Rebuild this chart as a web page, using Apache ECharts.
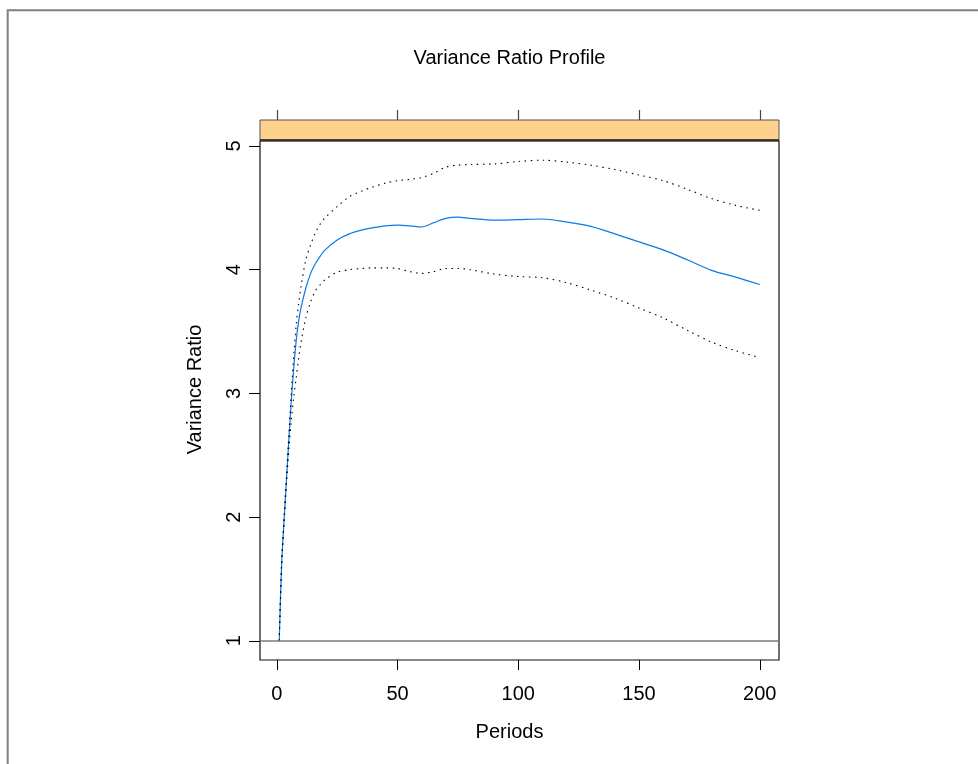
<!DOCTYPE html>
<html>
<head>
<meta charset="utf-8">
<script src="https://cdn.jsdelivr.net/npm/echarts@6/dist/echarts.min.js"></script>
<style>
  html, body { margin: 0; padding: 0; background: #fff; }
  #chart { width: 978px; height: 764px; }
</style>
</head>
<body>
<div id="chart"></div>
<script>
// Periods at which the profile is sampled
var periods = [1, 2, 3, 4, 5, 6, 7, 8, 9, 10, 12, 14, 16, 18, 20, 25, 30, 35, 40, 45,
  50, 55, 60, 65, 70, 75, 80, 90, 100, 110, 120, 130, 140, 150, 160, 170, 180, 190, 200];

// Mean variance ratio
var meanRatio = [1.00, 1.62, 1.97, 2.30, 2.63, 2.94, 3.20, 3.42, 3.58, 3.69, 3.85, 3.97, 4.05, 4.11, 4.16, 4.24, 4.29, 4.32, 4.34, 4.355,
  4.36, 4.355, 4.345, 4.38, 4.415, 4.425, 4.415, 4.40, 4.405, 4.41, 4.385, 4.35, 4.29, 4.225, 4.16, 4.08, 3.995, 3.94, 3.88];

// Upper band
var upperRatio = [1.00, 1.64, 1.99, 2.33, 2.67, 3.00, 3.30, 3.55, 3.72, 3.86, 4.08, 4.20, 4.30, 4.37, 4.42, 4.51, 4.59, 4.635, 4.67, 4.70,
  4.72, 4.73, 4.745, 4.78, 4.83, 4.845, 4.85, 4.855, 4.875, 4.885, 4.87, 4.845, 4.81, 4.765, 4.72, 4.65, 4.575, 4.52, 4.48];

// Lower band
var lowerRatio = [1.00, 1.60, 1.95, 2.27, 2.55, 2.78, 2.97, 3.12, 3.28, 3.41, 3.61, 3.74, 3.83, 3.88, 3.92, 3.98, 4.00, 4.01, 4.015, 4.015,
  4.01, 3.985, 3.97, 3.985, 4.01, 4.01, 4.00, 3.965, 3.945, 3.935, 3.895, 3.835, 3.77, 3.69, 3.61, 3.51, 3.415, 3.345, 3.29];

var xTicks = [0, 50, 100, 150, 200];
var yTicks = [1, 2, 3, 4, 5];
var refLevel = 1;

function pairs(xs, ys) {
  return xs.map(function (x, i) { return [x, ys[i]]; });
}

// axis limits padded by 4% of the data range on each side
var xMin = periods[0], xMax = periods[periods.length - 1];
var allY = meanRatio.concat(upperRatio, lowerRatio);
var yLo = Math.min.apply(null, allY), yHi = Math.max.apply(null, allY);
var xPad = 0.04 * (xMax - xMin), yPad = 0.04 * (yHi - yLo);

var FONT = '"Liberation Sans", Arial, sans-serif';
var FS = 20;
var GRID = { left: 260, top: 141, width: 519, height: 519 };

var chart = echarts.init(document.getElementById('chart'), null, { renderer: 'canvas' });

chart.setOption({
  backgroundColor: '#ffffff',
  animation: false,
  textStyle: { fontFamily: FONT },
  title: {
    text: 'Variance Ratio Profile',
    left: 504.5,
    textAlign: 'center',
    top: 43,
    textStyle: { fontFamily: FONT, fontSize: FS, fontWeight: 'normal', color: '#000' }
  },
  grid: {
    left: GRID.left, top: GRID.top, width: GRID.width, height: GRID.height,
    show: true, borderColor: '#111', borderWidth: 1.2, backgroundColor: 'transparent'
  },
  graphic: [
    // page frame
    { type: 'rect', shape: { x: 7.7, y: 10.2, width: 1000, height: 800 },
      style: { fill: 'none', stroke: '#808080', lineWidth: 2 }, z: 0 },
    // empty strip above the panel
    { type: 'rect', shape: { x: GRID.left, y: 120, width: GRID.width, height: 20 },
      style: { fill: '#ffd18f', stroke: '#555', lineWidth: 1 }, z: 5 },
    { type: 'line', shape: { x1: GRID.left, y1: 140.2, x2: GRID.left + GRID.width, y2: 140.2 },
      style: { stroke: '#33291c', lineWidth: 2 }, z: 6 }
  ],
  xAxis: [
    {
      type: 'value', min: xMin - xPad, max: xMax + xPad,
      position: 'bottom',
      name: 'Periods', nameLocation: 'middle', nameGap: 62,
      nameTextStyle: { fontFamily: FONT, fontSize: FS, color: '#000', padding: [0, 20, 0, 0] },
      axisLine: { show: false, onZero: false },
      splitLine: { show: false },
      axisTick: { show: true, inside: false, length: 10, customValues: xTicks,
        lineStyle: { color: '#000', width: 1 } },
      axisLabel: { show: true, customValues: xTicks, margin: 24,
        fontFamily: FONT, fontSize: FS, color: '#000' }
    },
    {
      type: 'value', min: xMin - xPad, max: xMax + xPad,
      position: 'top', offset: 21,
      axisLine: { show: false, onZero: false },
      splitLine: { show: false },
      axisTick: { show: true, inside: false, length: 10, customValues: xTicks,
        lineStyle: { color: '#444', width: 1.2 } },
      axisLabel: { show: false }
    }
  ],
  yAxis: {
    type: 'value', min: yLo - yPad, max: yHi + yPad,
    position: 'left',
    name: 'Variance Ratio', nameLocation: 'middle', nameGap: 55, nameRotate: 90,
    nameTextStyle: { fontFamily: FONT, fontSize: FS, color: '#000', padding: [0, 0, 0, 22] },
    axisLine: { show: false, onZero: false },
    splitLine: { show: false },
    axisTick: { show: true, inside: false, length: 11, customValues: yTicks,
      lineStyle: { color: '#000', width: 1 } },
    axisLabel: { show: true, customValues: yTicks, rotate: 90, margin: 16,
      fontFamily: FONT, fontSize: FS, color: '#000' }
  },
  series: [
    {
      name: 'mean', type: 'line', data: pairs(periods, meanRatio),
      showSymbol: false, smooth: 0.3, z: 3,
      lineStyle: { color: '#0a7ae6', width: 1.2 },
      markLine: {
        silent: true, symbol: 'none', animation: false,
        label: { show: false },
        lineStyle: { color: '#7a7a7a', width: 1.6, type: 'solid' },
        data: [{ yAxis: refLevel }]
      }
    },
    {
      name: 'upper', type: 'line', data: pairs(periods, upperRatio),
      showSymbol: false, smooth: 0.3, z: 4,
      lineStyle: { color: '#000', width: 1.1, type: [1.5, 4.5] }
    },
    {
      name: 'lower', type: 'line', data: pairs(periods, lowerRatio),
      showSymbol: false, smooth: 0.3, z: 4,
      lineStyle: { color: '#000', width: 1.1, type: [1.5, 4.5] }
    }
  ]
});
</script>
</body>
</html>
